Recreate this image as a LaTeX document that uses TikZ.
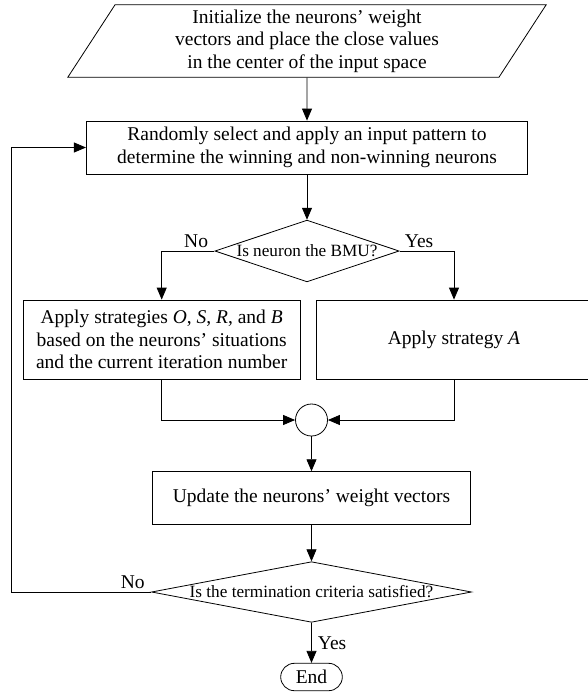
\documentclass[tikz,border=0pt]{standalone}
\usepackage{fontspec}
\setmainfont{Liberation Serif}
\usetikzlibrary{arrows.meta}
\usetikzlibrary{shapes.geometric}
\usetikzlibrary{shapes.misc}
\usetikzlibrary{calc}

\begin{document}
\begin{tikzpicture}[x=1pt, y=-1pt, line width=0.8pt,
    every node/.style={font=\fontsize{19.5}{22.5}\selectfont, inner sep=0pt},
    process/.style={draw, rectangle, align=center},
    decision/.style={draw, diamond, font=\fontsize{17.2}{20}\selectfont},
    flow/.style={-{Triangle[length=12pt, width=10pt]}}]
    \useasboundingbox (0,0) rectangle (587,693);
    \node[draw, trapezium, trapezium left angle=62.6, trapezium right angle=117.4, trapezium stretches,
          minimum width=479.4pt, minimum height=72.6pt, align=center] (init) at (307,41)
          {Initialize the neurons’ weight\\vectors and place the close values\\in the center of the input space};
    \node[process, minimum width=441.3pt, minimum height=53pt] (select) at (307,147.5)
          {Randomly select and apply an input pattern to\\determine the winning and non-winning neurons};
    \node[decision, minimum width=184.3pt, minimum height=61.7pt] (bmu) at (307,251)
          {\makebox[0pt]{Is neuron the BMU?}};
    \node[process, minimum width=276.7pt, minimum height=79pt] (strat) at (161.7,339.5)
          {Apply strategies \textit{O}, \textit{S}, \textit{R}, and \textit{B}\\based on the neurons’ situations\\and the current iteration number};
    \node[process, minimum width=276pt, minimum height=79pt] (stratA) at (454,339.5)
          {Apply strategy \textit{A}};
    \node[draw, circle, minimum size=32pt] (join) at (311.5,420) {};
    \node[process, minimum width=317.7pt, minimum height=52.3pt] (update) at (311.5,497.8)
          {Update the neurons’ weight vectors};
    \node[decision, minimum width=320pt, minimum height=60.6pt] (check) at (311.5,592)
          {\makebox[0pt]{Is the termination criteria satisfied?}};
    \node[draw, rounded rectangle, minimum width=61.6pt, minimum height=27.4pt] (stop) at (311.5,677) {End};
    \coordinate (back) at (11,592);

    \draw[flow] (init.south) -- (select.north);
    \draw[flow] (select.south) -- (bmu.north);
    \draw[flow] (bmu.west) node[above left, xshift=-6pt, yshift=3pt] {No} -| (strat.north);
    \draw[flow] (bmu.east) node[above right, xshift=5pt, yshift=3pt] {Yes} -| (stratA.north);
    \draw[flow] (strat.south) |- (join.west);
    \draw[flow] (stratA.south) |- (join.east);
    \draw[flow] (join.south) -- (update.north);
    \draw[flow] (update.south) -- (check.north);
    \draw[flow] (check.south) -- node[right, xshift=6pt] {Yes} (stop.north);
    \draw[flow] (check.west) node[above left, xshift=-6pt, yshift=3pt] {No} -- (back) |- (select.west);
\end{tikzpicture}
\end{document}
